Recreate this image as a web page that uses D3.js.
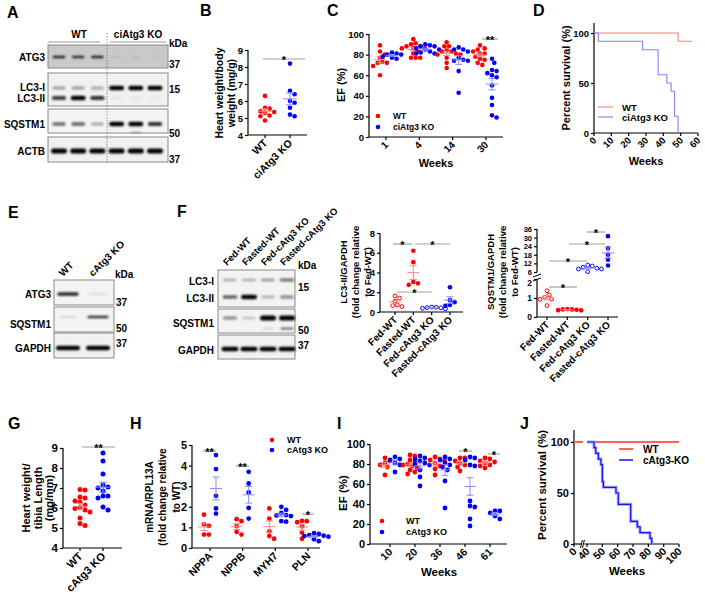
<!DOCTYPE html>
<html><head><meta charset="utf-8">
<script src="https://cdn.jsdelivr.net/npm/d3@7"></script>
<style>
body{margin:0;background:#fff}
svg{display:block}
text{font-family:Arial,"Liberation Sans",sans-serif;font-weight:bold;fill:#000}
</style>
</head><body>
<svg id="fig" width="705" height="603"></svg>
<script>
// ---------------- DATA ----------------
// Panel A blot (6 lanes: 3 WT, 3 ciAtg3 KO) band intensities
const aGroups = ["WT", "ciAtg3 KO"];
const aATG3 = [0.85, 0.8, 0.85, 0.1, 0.1, 0.06];
const aLC3I = [0.35, 0.35, 0.3, 1, 1, 1];
const aLC3II = [0.75, 1, 0.8, 0.05, 0.05, 0.04];
const aSQ = [0.55, 0.6, 0.3, 1, 1, 0.8];
const aSQlow = [0, 0, 0, 0, 0.3, 0];
const aACTB = [1, 1, 1, 1, 1, 1];
// Panel B
const bCats = ["WT", "ciAtg3 KO"];
const bWT = [6.3, 5.6, 5.55, 5.4, 5.35, 5.3, 5.15, 5.1, 4.85];
const bKO = [8.2, 6.6, 6.4, 6.0, 5.9, 5.6, 5.2, 5.1];
// Panel C
const cWeeks = ["1", "4", "14", "30"];
const cWT = [[89,83,80,77,73,72,72,69,60],[95,91,90,88,88,86,86,86,83,81,77,77,77],[92,88,88,84,83,83,81,80,80,77,72,67],[89,86,85,83,81,81,78,76,75,72,70]];
const cKO = [[82,81,80,80,78,77,76],[90,89,88,88,86,85,85,83,82,81,81],[87,85,85,83,77,75,74,74,64,43],[76,72,65,64,62,60,58,50,38,31,21,19]];
// Panel D survival steps [week, %]
const dTicks = [0, 10, 20, 30, 40, 50, 60];
const dWT = [[0,100],[48.5,91.7],[56.5,91.7]];
const dKO = [[0,100],[2.5,91.7],[28,83.3],[37,58.3],[42,50],[44.5,41.7],[46.5,16.7],[48.5,0]];
// Panel E blot
const eLanes = ["WT", "cAtg3 KO"];
const eATG3 = [0.85, 0.08];
const eSQ = [0.12, 0.8];
const eGAPDH = [1, 1];
// Panel F blot
const fCats = ["Fed-WT", "Fasted-WT", "Fed-cAtg3 KO", "Fasted-cAtg3 KO"];
const fLC3I = [0.3, 0.3, 0.4, 0.55];
const fLC3II = [0.6, 1, 0.25, 0.4];
const fSQ = [0.4, 0.18, 1, 1];
const fSQlow = [0, 0, 0.15, 0.6];
const fGAPDH = [1, 1, 1, 1];
// Panel F quantification
const lc3Vals = [[1.62,1.4,1.1,0.72,0.65,0.55],[6.2,5.05,3.05,2.75,2.9],[0.48,0.5,0.42,0.38,0.32,0.45],[2.5,1.2,0.72,0.62,1.0]];
const sqVals = [[1.38,1.16,1.04,0.95,0.93,0.6],[0.38,0.4,0.35,0.42,0.36,0.4],[10.9,10.2,9.3,8.6,8.1,8.1,6.2],[31,22.5,18,14.5,10.5]];
const lc3Ticks = [0, 2, 4, 6, 8];
const sqTicksLow = [0, 1, 2];
const sqTicksHigh = [6, 12, 18, 24, 30, 36];
// Panel G
const gCats = ["WT", "cAtg3 KO"];
const gWT = [6.92,6.9,6.55,6.5,6.35,6.3,6.15,6.02,5.98,5.9,5.8,5.5,5.22,5.12];
const gKO = [8.75,8.35,7.7,7.15,7.05,7.0,6.85,6.6,6.6,6.5,6.05,5.9];
// Panel H
const hGenes = ["NPPA", "NPPB", "MYH7", "PLN"];
const hWT = [[1.62,1.14,1.07,0.65,0.65],[1.4,1.3,1.06,0.78,0.65],[1.92,1.43,0.81,0.58,0.45],[1.32,1.3,1.25,1.05,0.75,0.45]];
const hKO = [[4.51,3.83,2.53,1.92,1.67],[3.7,3.13,2.7,1.95,1.43],[2.0,1.85,1.7,1.6,1.58,1.55,1.3,1.28],[0.72,0.68,0.62,0.6,0.58,0.55,0.42,0.33]];
// Panel I
const iWeeks = ["10", "20", "36", "46", "61"];
const iWT = [[86,83,81,79,77,69],[89,88,84,82,80,79,78,76,74,72,70],[87,85,84,83,81,78,75,69],[86,86,83,81,79,77,73],[86,85,83,82,81,79,78,76]];
const iKO = [[87,85,84,81,79,72],[88,86,85,83,81,80,79,74,67,58],[87,85,84,81,79,77,74,63,36],[87,86,84,79,78,43,38,37,25,18],[33,33,31,28,25]];
// Panel J
const jTicks = [0, 40, 50, 60, 70, 80, 90, 100];
const jWT = [[0,100],[28,100],[40,100],[100,100]];
const jKO = [[40,100],[44.6,94.4],[45.7,88.9],[47.4,83.3],[49.1,77.8],[50,61.1],[50.7,55.6],[58.9,50],[60.4,38.9],[68.5,22.2],[72.8,16.7],[74.6,11.1],[81.1,5.6],[82.2,0]];

// ---------------- HELPERS ----------------
const RED = "#ff0000", BLUE = "#0000ff", LRED = "#f58a8a", LBLUE = "#8a8af5";
const svg = d3.select("#fig");
svg.append("defs").append("filter").attr("id","blur").attr("x","-50%").attr("y","-200%").attr("width","200%").attr("height","500%")
  .append("feGaussianBlur").attr("stdDeviation", 0.8);

function txt(x, y, s, fs, anchor) {
  return svg.append("text").attr("x", x).attr("y", y).attr("font-size", fs).attr("text-anchor", anchor || "start").text(s);
}
function vtxt(x, y, s, fs) {
  return svg.append("text").attr("transform", `translate(${x},${y}) rotate(-90)`).attr("text-anchor", "middle")
    .attr("dominant-baseline", "central").attr("font-size", fs).text(s);
}
function vlines(x0, dx, y, lines, fs) { lines.forEach((s, i) => vtxt(x0 + i * dx, y, s, fs)); }
function line(x1, y1, x2, y2, col, w, dash) {
  const l = svg.append("line").attr("x1", x1).attr("y1", y1).attr("x2", x2).attr("y2", y2)
    .attr("stroke", col || "#000").attr("stroke-width", w || 1.2);
  if (dash) l.attr("stroke-dasharray", dash);
  return l;
}
function yAxis(x, scale, ticks, fs, top) {
  const g = svg.append("g").attr("transform", `translate(${x},0)`)
    .call(d3.axisLeft(scale).tickValues(ticks).tickSize(3).tickSizeOuter(0).tickPadding(2).tickFormat(d3.format("d")));
  g.attr("font-family", null).attr("font-size", null);
  g.selectAll("text").attr("font-size", fs);
  g.selectAll("line").attr("stroke", "#000").attr("stroke-width", 1.2);
  const r = scale.range();
  g.select(".domain").attr("stroke", "#000").attr("stroke-width", 1.2)
    .attr("d", `M0,${top != null ? top : Math.min(...r)}V${Math.max(...r)}`);
  return g;
}
function rotLabel(x, y, s, fs) {
  svg.append("text").attr("x", x).attr("y", y).attr("text-anchor", "end").attr("font-size", fs)
    .attr("transform", `rotate(-45,${x},${y})`).text(s);
}
function xCat(y0, x0, x1, scale, cats, fs) {
  line(x0, y0, x1, y0);
  cats.forEach(c => {
    const cx = scale(c);
    line(cx, y0, cx, y0 + 3);
    rotLabel(cx + 0.3 * fs, y0 + 4 + 0.45 * fs, c, fs);
  });
}
function swarm(vals, cx, y, r) {
  const pts = vals.map(v => ({ v, y: y(v) })).sort((a, b) => a.y - b.y);
  const placed = [], step = r * 1.0;
  pts.forEach(p => {
    for (let k = 0; k < 30; k++) {
      const off = k === 0 ? 0 : (k % 2 ? 1 : -1) * Math.ceil(k / 2) * step;
      const x = cx + off;
      if (placed.every(q => (q.x - x) ** 2 + (q.y - p.y) ** 2 >= (1.9 * r) ** 2)) { p.x = x; break; }
    }
    if (p.x === undefined) p.x = cx;
    placed.push(p);
  });
  return pts;
}
function scat(vals, cx, y, col, opt) {
  opt = opt || {};
  const r = opt.r || 2.3, mw = opt.mw || 7, cw = opt.cw || 4;
  const pts = swarm(vals, cx, y, r);
  pts.forEach(p => svg.append("circle").attr("cx", p.x).attr("cy", p.y).attr("r", opt.open ? r - 0.4 : r)
    .attr("fill", opt.open ? "#fff" : col).attr("stroke", col).attr("stroke-width", opt.open ? 1 : 0));
  const m = d3.mean(vals), se = d3.deviation(vals) / Math.sqrt(vals.length);
  const lc = col === RED ? LRED : LBLUE;
  line(cx - mw, y(m), cx + mw, y(m), lc, 1);
  line(cx, y(m - se), cx, y(m + se), lc, 1);
  line(cx - cw, y(m - se), cx + cw, y(m - se), lc, 1);
  line(cx - cw, y(m + se), cx + cw, y(m + se), lc, 1);
}
function sig(x1, x2, y, s, fs) {
  line(x1, y, x2, y, "#a0a0a0", 1.2);
  txt((x1 + x2) / 2, y + 0.42 * (fs || 11), s, fs || 11, "middle");
}
function box(x, y, w, h, fill) {
  svg.append("rect").attr("x", x).attr("y", y).attr("width", w).attr("height", h)
    .attr("fill", fill || "#f3f3f3").attr("stroke", "#8a8a8a").attr("stroke-width", 1);
}
function bands(xs, yc, ints, w, h) {
  ints.forEach((v, i) => {
    if (v <= 0) return;
    const hh = h * (0.55 + 0.45 * v), ww = w * (0.8 + 0.2 * v);
    svg.append("rect").attr("x", xs(i) - ww / 2).attr("y", yc - hh / 2).attr("width", ww).attr("height", hh)
      .attr("rx", Math.min(hh / 2, 3)).attr("fill", "#000").attr("opacity", Math.min(1, v)).attr("filter", "url(#blur)");
  });
}
function legDot(x, y, col, label, fs, tx) {
  svg.append("circle").attr("cx", x).attr("cy", y).attr("r", 2.3).attr("fill", col);
  txt(tx, y + 0.36 * fs, label, fs);
}
function letter(x, y, s) { txt(x, y, s, 16); }

// ---------------- PANEL A ----------------
letter(7, 18, "A");
{
  const xs = d3.scalePoint().domain(d3.range(6)).range([59, 155]);
  txt(79, 38, aGroups[0], 10, "middle"); line(48, 42, 100, 42, "#999", 1);
  txt(138, 38, aGroups[1], 10, "middle"); line(110, 42, 166, 42, "#999", 1);
  box(48, 45, 120, 23, "#c9c9c9");
  box(48, 73, 120, 33, "#f1f1f1");
  box(48, 109, 120, 24, "#f4f4f4");
  box(48, 137, 120, 25, "#f1f1f1");
  bands(xs, 57, aATG3, 13, 2.5);
  bands(xs, 88, aLC3I, 15, 4.5);
  bands(xs, 98, aLC3II, 15, 4.5);
  bands(xs, 124, aSQ, 15, 4.5);
  bands(xs, 132.5, aSQlow, 12, 2);
  bands(xs, 151, aACTB, 16, 5);
  line(107, 33, 107, 163, "#777", 0.8, "1.5,1.5");
  const fs = 10;
  txt(45, 60.5, "ATG3", fs, "end");
  txt(45, 90.5, "LC3-I", fs, "end");
  txt(45, 101.5, "LC3-II", fs, "end");
  txt(45, 127.5, "SQSTM1", fs, "end");
  txt(45, 155, "ACTB", fs, "end");
  txt(169, 47, "kDa", fs); txt(169, 68, "37", fs); txt(169, 93, "15", fs); txt(169, 137, "50", fs); txt(169, 163, "37", fs);
}

// ---------------- PANEL B ----------------
letter(200, 16, "B");
{
  const y = d3.scaleLinear().domain([4, 9]).range([135, 50]);
  const x = d3.scalePoint().domain(bCats).range([265, 290]);
  vlines(219, 12, 93, ["Heart weight/body", "weight (mg/g)"], 10.5);
  yAxis(248, y, [4, 5, 6, 7, 8, 9], 9.5);
  xCat(135, 248, 307, x, bCats, 10.5);
  scat(bWT, x("WT"), y, RED);
  scat(bKO, x("ciAtg3 KO"), y, BLUE);
  sig(263, 305, 59, "*");
}

// ---------------- PANEL C ----------------
letter(327, 16, "C");
{
  const y = d3.scaleLinear().domain([0, 100]).range([137, 34]);
  const x = d3.scalePoint().domain(cWeeks).range([386, 486]);
  vtxt(341, 85, "EF (%)", 11);
  yAxis(369, y, [0, 20, 40, 60, 80, 100], 9.5);
  xCat(137, 369, 503, x, cWeeks, 10);
  cWeeks.forEach((w, i) => {
    scat(cWT[i], x(w) - 6, y, RED, { mw: 6, cw: 3.5 });
    scat(cKO[i], x(w) + 6, y, BLUE, { mw: 6, cw: 3.5 });
  });
  legDot(378, 116, RED, "WT", 8.5, 393);
  legDot(378, 127, BLUE, "ciAtg3 KO", 8.5, 393);
  txt(436, 167, "Weeks", 11, "middle");
  sig(482, 498, 39, "**");
}

// ---------------- PANEL D ----------------
letter(533, 16, "D");
{
  const y = d3.scaleLinear().domain([0, 100]).range([133, 33]);
  const x = d3.scaleLinear().domain([0, 60]).range([594, 698]);
  vtxt(566, 78, "Percent survival (%)", 11);
  yAxis(594, y, [0, 50, 100], 9.5, 23);
  line(594, 133, 698, 133);
  dTicks.forEach(t => { line(x(t), 133, x(t), 136); rotLabel(x(t) + 3, 141, String(t), 9.5); });
  const ln = d3.line().x(d => x(d[0])).y(d => y(d[1])).curve(d3.curveStepAfter);
  svg.append("path").attr("d", ln(dWT)).attr("fill", "none").attr("stroke", "#f47f7f").attr("stroke-width", 1.1);
  svg.append("path").attr("d", ln(dKO)).attr("fill", "none").attr("stroke", "#8383ee").attr("stroke-width", 1.1);
  line(598, 107, 613, 107, "#f47f7f", 1.1); txt(622, 110.5, "WT", 9.5);
  line(598, 117, 613, 117, "#8383ee", 1.1); txt(622, 120.5, "ciAtg3 KO", 9.5);
  txt(646, 165, "Weeks", 11, "middle");
}

// ---------------- PANEL E ----------------
letter(8, 218, "E");
{
  const xs = d3.scalePoint().domain(d3.range(2)).range([68, 98]);
  eLanes.forEach((s, i) => {
    svg.append("text").attr("x", xs(i) - 5).attr("y", 277).attr("font-size", 10)
      .attr("transform", `rotate(-45,${xs(i) - 5},277)`).text(s);
  });
  box(54, 280, 60, 25, "#f3f3f3");
  box(54, 307, 60, 25, "#f3f3f3");
  box(54, 333, 60, 25, "#f1f1f1");
  bands(xs, 294, eATG3, 22, 4);
  bands(xs, 317, eSQ, 22, 3);
  bands(xs, 348, eGAPDH, 24, 4.5);
  const fs = 10;
  txt(51, 297.5, "ATG3", fs, "end");
  txt(51, 327.5, "SQSTM1", fs, "end");
  txt(51, 352, "GAPDH", fs, "end");
  txt(115, 278, "kDa", fs); txt(116, 306, "37", fs); txt(116, 332, "50", fs); txt(116, 347, "37", fs);
}

// ---------------- PANEL F (blot) ----------------
letter(177, 217, "F");
{
  const xs = d3.scalePoint().domain(d3.range(4)).range([230, 287]);
  fCats.forEach((s, i) => {
    svg.append("text").attr("x", xs(i) - 3).attr("y", 266).attr("font-size", 9.5)
      .attr("transform", `rotate(-45,${xs(i) - 3},266)`).text(s);
  });
  box(218, 270, 77, 37, "#f3f3f3");
  box(218, 309, 77, 24, "#f3f3f3");
  box(218, 335, 77, 24, "#f1f1f1");
  bands(xs, 280, fLC3I, 16, 3.5);
  bands(xs, 297, fLC3II, 16, 4.5);
  bands(xs, 318, fSQ, 16, 5);
  bands(xs, 328.5, fSQlow, 14, 2.5);
  bands(xs, 349, fGAPDH, 17, 4.5);
  const fs = 10;
  txt(214, 284.5, "LC3-I", fs, "end");
  txt(214, 301.5, "LC3-II", fs, "end");
  txt(214, 326.5, "SQSTM1", fs, "end");
  txt(214, 353.5, "GAPDH", fs, "end");
  txt(298, 269, "kDa", fs); txt(298, 291, "15", fs); txt(298, 334, "50", fs); txt(298, 349, "37", fs);
}

// ---------------- PANEL F (LC3-II quant) ----------------
{
  const y = d3.scaleLinear().domain([0, 8]).range([312, 233]);
  const x = d3.scalePoint().domain(fCats).range([395, 450]);
  vlines(343, 12, 272, ["LC3-II/GAPDH", "(fold change relative", "to Fed-WT)"], 9.5);
  yAxis(380, y, lc3Ticks, 9.5);
  xCat(312, 380, 463, x, fCats, 10);
  const cols = [RED, RED, BLUE, BLUE], open = [true, false, true, false];
  fCats.forEach((c, i) => scat(lc3Vals[i], x(c), y, cols[i], { open: open[i], mw: 6, cw: 3.5 }));
  sig(393, 412, 244, "*");
  sig(415, 450, 244, "*");
  sig(397, 432, 292, "*");
}

// ---------------- PANEL F (SQSTM1 quant) ----------------
{
  const y = d3.scaleLinear().domain([0, 2, 6, 36]).range([317, 279, 272, 229]);
  const yLow = d3.scaleLinear().domain([0, 2]).range([317, 279]);
  const yHigh = d3.scaleLinear().domain([6, 36]).range([272, 229]);
  const x = d3.scalePoint().domain(fCats).range([547, 608]);
  vlines(490, 12, 272, ["SQSTM1/GAPDH", "(fold change relative", "to Fed-WT)"], 9.5);
  const gl = yAxis(537, yLow, sqTicksLow, 8.5);
  yAxis(537, yHigh, sqTicksHigh, 7.5);
  gl.selectAll(".tick text").filter(d => d === 2).attr("dy", "0.75em");
  // axis break marks
  line(533, 277, 541, 274, "#000", 1);
  line(533, 281, 541, 278, "#000", 1);
  xCat(317, 537, 618, x, fCats, 10);
  const cols = [RED, RED, BLUE, BLUE], open = [true, false, true, false];
  fCats.forEach((c, i) => scat(sqVals[i], x(c), y, cols[i], { open: open[i], mw: 6, cw: 3.5 }));
  sig(549, 577, 287, "*");
  sig(549, 587, 261, "*");
  sig(569, 605, 244, "*");
  sig(587, 605, 232, "*");
}

// ---------------- PANEL G ----------------
letter(8, 429, "G");
{
  const y = d3.scaleLinear().domain([4, 9]).range([548, 448]);
  const x = d3.scalePoint().domain(gCats).range([80, 103]);
  vlines(26, 11.5, 498, ["Heart weight/", "tibia Length", "(mg/mm)"], 11);
  yAxis(63, y, [4, 5, 6, 7, 8, 9], 11.5);
  xCat(548, 63, 122, x, gCats, 11);
  scat(gWT, x("WT"), y, RED, { r: 2.5 });
  scat(gKO, x("cAtg3 KO"), y, BLUE, { r: 2.5 });
  sig(82, 115, 447, "**");
}

// ---------------- PANEL H ----------------
letter(130, 429, "H");
{
  const y = d3.scaleLinear().domain([0, 5]).range([548, 445]);
  const x = d3.scalePoint().domain(hGenes).range([210, 308]);
  vlines(149, 13.5, 497, ["mRNA/RPL13A", "(fold change relative", "to WT)"], 10);
  yAxis(192, y, [0, 1, 2, 3, 4, 5], 11);
  xCat(548, 192, 320, x, hGenes, 10.5);
  hGenes.forEach((gname, i) => {
    scat(hWT[i], x(gname) - 6, y, RED, { r: 2.4, mw: 6, cw: 3.5 });
    scat(hKO[i], x(gname) + 6, y, BLUE, { r: 2.4, mw: 6, cw: 3.5 });
  });
  legDot(272, 440, RED, "WT", 9, 287);
  legDot(272, 450, BLUE, "cAtg3 KO", 9, 287);
  sig(203, 216, 451, "**");
  sig(236, 249, 466, "**");
  sig(302, 314, 514, "*");
}

// ---------------- PANEL I ----------------
letter(337, 429, "I");
{
  const y = d3.scaleLinear().domain([0, 100]).range([544, 444]);
  const x = d3.scalePoint().domain(iWeeks).range([390, 490]);
  vtxt(343, 493, "EF (%)", 11.5);
  yAxis(370, y, [0, 20, 40, 60, 80, 100], 11);
  xCat(544, 370, 507, x, iWeeks, 10.5);
  iWeeks.forEach((w, i) => {
    scat(iWT[i], x(w) - 5, y, RED, { r: 2.4, mw: 5.5, cw: 3.5 });
    scat(iKO[i], x(w) + 5, y, BLUE, { r: 2.4, mw: 5.5, cw: 3.5 });
  });
  legDot(382, 521, RED, "WT", 9, 406);
  legDot(382, 532, BLUE, "cAtg3 KO", 9, 406);
  txt(439, 576, "Weeks", 11.5, "middle");
  sig(459, 472, 451, "*");
  sig(488, 500, 454, "*");
}

// ---------------- PANEL J ----------------
letter(520, 429, "J");
{
  const y = d3.scaleLinear().domain([0, 100]).range([544, 442]);
  const x = d3.scaleLinear().domain([0, 40, 100]).range([574, 587, 679]);
  vtxt(542, 485, "Percent survival (%)", 11.5);
  yAxis(574, y, [0, 50, 100], 11, 430);
  line(574, 544, x(22), 544);
  line(x(32), 544, x(100), 544);
  line(x(20), 548, x(26), 540, "#000", 1);
  line(x(26), 548, x(32), 540, "#000", 1);
  jTicks.forEach(t => { line(x(t), 544, x(t), 547); rotLabel(x(t) + 3.5, 552, String(t), 10.5); });
  const ln = d3.line().x(d => x(d[0])).y(d => y(d[1])).curve(d3.curveStepAfter);
  svg.append("path").attr("d", ln(jWT.slice(0, 2))).attr("fill", "none").attr("stroke", "#ff6060").attr("stroke-width", 2);
  svg.append("path").attr("d", ln(jWT.slice(2))).attr("fill", "none").attr("stroke", "#ff6060").attr("stroke-width", 2);
  svg.append("path").attr("d", ln(jKO)).attr("fill", "none").attr("stroke", "#a8a8ff").attr("stroke-width", 3);
  svg.append("path").attr("d", ln(jKO)).attr("fill", "none").attr("stroke", "#1010ff").attr("stroke-width", 1.2);
  line(619, 449, 633, 449, "#ff6060", 2); txt(643, 452.5, "WT", 10);
  line(619, 460, 633, 460, "#1010ff", 1.5); txt(643, 463.5, "cAtg3-KO", 10);
  txt(627, 575, "Weeks", 11.5, "middle");
}
</script>
</body></html>
